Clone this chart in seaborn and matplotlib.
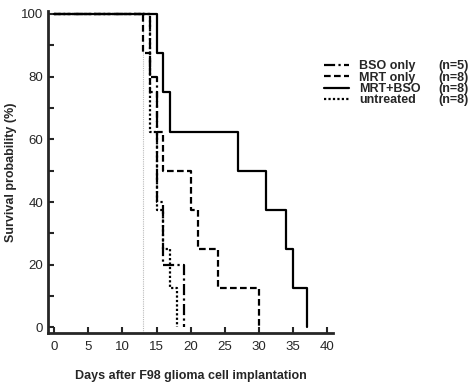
import numpy as np
import pandas as pd
import seaborn as sns
import matplotlib.pyplot as plt
from matplotlib.lines import Line2D

# survival steps (days, % surviving)
bso_days = [0, 14, 15, 16, 19]
bso_surv = [100, 80, 40, 20, 0]
mrt_days = [0, 13, 14, 15, 16, 20, 21, 24, 30]
mrt_surv = [100, 87.5, 75, 62.5, 50, 37.5, 25, 12.5, 0]
mrt_bso_days = [0, 15, 16, 17, 27, 31, 34, 35, 37]
mrt_bso_surv = [100, 87.5, 75, 62.5, 50, 37.5, 25, 12.5, 0]
untr_days = [0, 14, 15, 16, 17, 18]
untr_surv = [100, 62.5, 37.5, 25, 12.5, 0]

group_names = ["BSO only", "MRT only", "MRT+BSO", "untreated"]
group_n = ["(n=5)", "(n=8)", "(n=8)", "(n=8)"]
x_ticks = [0, 5, 10, 15, 20, 25, 30, 35, 40]
y_ticks = [0, 20, 40, 60, 80, 100]
irradiation_day = 13

sns.set_style("ticks")
plt.rcParams['font.family'] = ['Liberation Sans', 'DejaVu Sans']

fig = plt.figure(figsize=(4.72, 3.86), dpi=100)
ax = fig.add_axes([0.102, 0.137, 0.604, 0.835])

ax.axvline(irradiation_day, color='#bbbbbb', lw=0.8, ls=(0, (1, 1)), zorder=1)

styles = [(0, (5, 1.5, 1, 1.5)), (0, (3, 1.5)), '-', (0, (1, 1))]
series = [(bso_days, bso_surv), (mrt_days, mrt_surv),
          (mrt_bso_days, mrt_bso_surv), (untr_days, untr_surv)]
handles = []
for (d, s), ls in zip(series, styles):
    df = pd.DataFrame({"day": d, "surv": s})
    sns.lineplot(data=df, x="day", y="surv", ax=ax, color='black', lw=1.6,
                 linestyle=ls, drawstyle='steps-post', estimator=None, zorder=3)
    handles.append(Line2D([], [], color='black', lw=1.6, linestyle=ls))

ax.set_xlim(-0.9, 40.9)
ax.set_ylim(-1.8, 101)
ax.set_xticks(x_ticks)
ax.set_yticks(y_ticks)
ax.set_yticks(np.arange(10, 100, 20), minor=True)
ax.tick_params(axis='both', which='both', direction='in', labelsize=9.5, width=1.5)
ax.tick_params(axis='both', which='major', length=4)
ax.tick_params(axis='x', which='major', pad=6)
ax.tick_params(axis='y', which='minor', length=4)
sns.despine(ax=ax)
for sp in ['left', 'bottom']:
    ax.spines[sp].set_linewidth(2)

ax.set_xlabel("Days after F98 glioma cell implantation", fontweight='bold', fontsize=9)
ax.set_ylabel("Survival probability (%)", fontweight='bold', fontsize=9)
ax.xaxis.set_label_coords(0.5, -0.115)
ax.yaxis.set_label_coords(-0.11, 0.5)

leg_font = {'weight': 'bold', 'size': 9}
leg1 = fig.legend(handles, group_names, loc='upper left', bbox_to_anchor=(0.663, 0.873),
                  frameon=False, handlelength=2.0, handletextpad=0.8, labelspacing=-0.05,
                  prop=leg_font)
blank = [Line2D([], [], color='none') for _ in group_n]
leg2 = fig.legend(blank, group_n, loc='upper left', bbox_to_anchor=(0.905, 0.873),
                  frameon=False, handlelength=0, handletextpad=0, labelspacing=-0.05,
                  prop=leg_font)

fig.savefig("out.png", dpi=100)
